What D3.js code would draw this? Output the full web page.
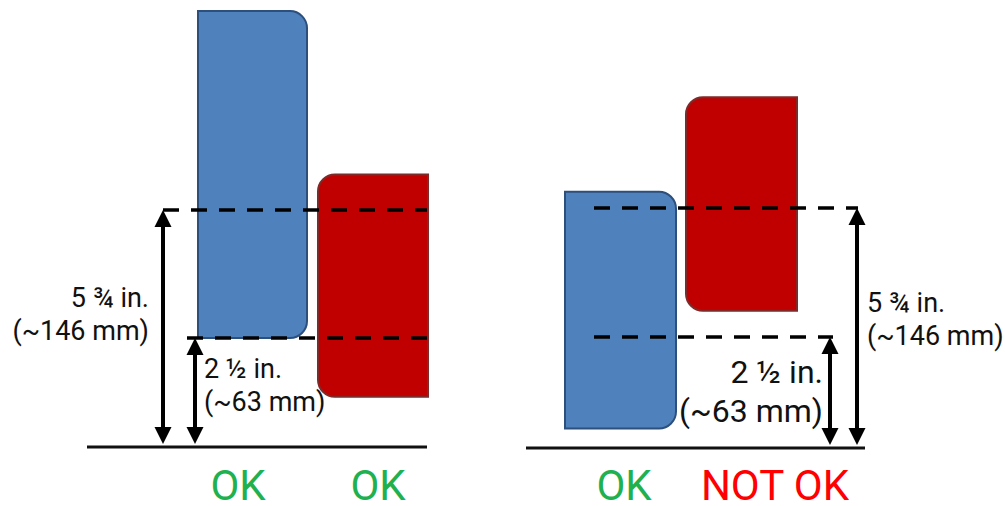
<!DOCTYPE html>
<html>
<head>
<meta charset="utf-8">
<script src="https://cdn.jsdelivr.net/npm/d3@7"></script>
<style>
  html, body { margin: 0; padding: 0; background: #fff; }
  svg { display: block; }
  text { font-family: Roboto, "Noto Sans", sans-serif; }
</style>
</head>
<body>
<svg id="chart" width="1005" height="506"></svg>
<script>
// ---- data (heights in inches above the floor) ----
const panels = ["left", "right"];
const barSeries = ["blue", "red"];
const barBottoms = [[2.5, 1.15], [0.44, 3.16]];
const barTops = [[10.8, 6.65], [6.16, 8.54]];
const refLevels = [2.5, 5.75];
const refLabelLines = [["2 ½ in.", "(~63 mm)"], ["5 ¾ in.", "(~146 mm)"]];
const verdicts = [["OK", "OK"], ["OK", "NOT OK"]];
const verdictOk = [[true, true], [true, false]];

// ---- layout (pixels) ----
const layout = [
  { yRange: [447, 338, 210], floor: [87, 427],
    bars: [[198, 307], [318, 428]],
    dash: [[187, 427], [163, 427]],
    arrowX: [195, 163],
    verdictX: [238, 378],
    labels: [
      { x: 204, anchor: "start", size: 27, base: [378, 411] },
      { x: 149, anchor: "end", size: 27, base: [307, 340] }
    ] },
  { yRange: [448, 337, 208], floor: [526, 865],
    bars: [[565, 676], [686, 797]],
    dash: [[594, 833], [594, 858]],
    arrowX: [830, 857],
    verdictX: [624, 775],
    labels: [
      { x: 823, anchor: "end", size: 32, base: [383, 422] },
      { x: 867, anchor: "start", size: 27, base: [312, 345] }
    ] }
];

const fills = { blue: "#4f81bd", red: "#c00000" };
const strokes = { blue: "#2c4f7c", red: "#7d2a28" };
const okColor = "#1fb14f", notOkColor = "#ff0000";
const R = 17;

const svg = d3.select("#chart");

function roundedBar(x0, x1, yTop, yBot, side) {
  const p = d3.path();
  if (side === "right") {
    p.moveTo(x0, yTop);
    p.lineTo(x1 - R, yTop);
    p.arcTo(x1, yTop, x1, yTop + R, R);
    p.lineTo(x1, yBot - R);
    p.arcTo(x1, yBot, x1 - R, yBot, R);
    p.lineTo(x0, yBot);
    p.closePath();
  } else {
    p.moveTo(x1, yTop);
    p.lineTo(x1, yBot);
    p.lineTo(x0 + R, yBot);
    p.arcTo(x0, yBot, x0, yBot - R, R);
    p.lineTo(x0, yTop + R);
    p.arcTo(x0, yTop, x0 + R, yTop, R);
    p.closePath();
  }
  return p.toString();
}

function arrowHead(x, tipY, dir) {
  const L = 17, W = 8.5;
  return `M${x},${tipY} L${x - W},${tipY + dir * L} L${x + W},${tipY + dir * L} Z`;
}

panels.forEach((name, pi) => {
  const L = layout[pi];
  const y = d3.scaleLinear().domain([0, 2.5, 5.75]).range(L.yRange);
  const g = svg.append("g").attr("class", "panel-" + name);

  // bars
  barSeries.forEach((s, si) => {
    const [x0, x1] = L.bars[si];
    g.append("path")
      .attr("d", roundedBar(x0, x1, y(barTops[pi][si]), y(barBottoms[pi][si]), si === 0 ? "right" : "left"))
      .attr("fill", fills[s])
      .attr("stroke", strokes[s])
      .attr("stroke-width", 2);
  });

  // floor
  g.append("line")
    .attr("x1", L.floor[0]).attr("x2", L.floor[1])
    .attr("y1", y(0)).attr("y2", y(0))
    .attr("stroke", "#111").attr("stroke-width", 3);

  // dashed reference lines
  refLevels.forEach((lv, li) => {
    g.append("line")
      .attr("x1", L.dash[li][0]).attr("x2", L.dash[li][1])
      .attr("y1", y(lv)).attr("y2", y(lv))
      .attr("stroke", "#000").attr("stroke-width", 3.5)
      .attr("stroke-dasharray", "16,12");
  });

  // arrows
  refLevels.forEach((lv, li) => {
    const x = L.arrowX[li];
    const top = y(lv), bot = y(0) - 3;
    g.append("line")
      .attr("x1", x).attr("x2", x)
      .attr("y1", top + 10).attr("y2", bot - 10)
      .attr("stroke", "#000").attr("stroke-width", 4);
    g.append("path").attr("d", arrowHead(x, top, 1)).attr("fill", "#000");
    g.append("path").attr("d", arrowHead(x, bot, -1)).attr("fill", "#000");
  });

  // labels
  refLabelLines.forEach((lines, li) => {
    const lab = L.labels[li];
    lines.forEach((t, k) => {
      g.append("text")
        .attr("x", lab.x).attr("y", lab.base[k])
        .attr("text-anchor", lab.anchor)
        .attr("font-size", lab.size)
        .attr("fill", "#111")
        .text(t);
    });
  });

  // verdicts
  verdicts[pi].forEach((v, vi) => {
    g.append("text")
      .attr("x", L.verdictX[vi]).attr("y", 500)
      .attr("text-anchor", "middle")
      .attr("font-size", 42)
      .attr("fill", verdictOk[pi][vi] ? okColor : notOkColor)
      .text(v);
  });
});
</script>
</body>
</html>
